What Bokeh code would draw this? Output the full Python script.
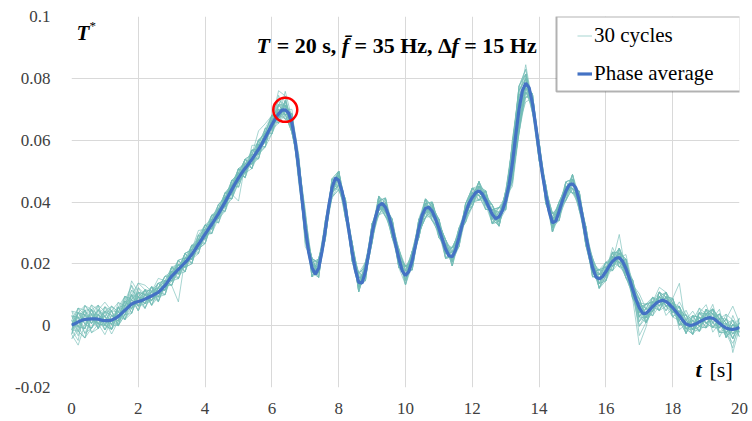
from bokeh.plotting import figure
from bokeh.models import Range1d, FixedTicker, Label, Legend, LegendItem, BoxAnnotation
from bokeh.embed import file_html
from bokeh.resources import INLINE

# ---------------------------------------------------------------- data
# Phase-averaged normalised response T* (x 1e-3), sampled every 0.1 s from 0 to 20 s
avg_milli = [
    0.2, 0.6, 1.2, 1.7, 2.0, 2.1, 2.2, 2.2, 2.1, 1.8,          # 0 s
    1.6, 1.6, 1.8, 2.3, 3.0, 4.0, 5.0, 6.0, 7.0, 7.5,          # 1 s
    7.8, 8.1, 8.6, 9.1, 9.6, 10.2, 10.8, 11.8, 13.0, 14.5,     # 2 s
    16.0, 17.1, 18.2, 19.3, 20.4, 21.6, 23.0, 24.6, 26.3, 27.9,  # 3 s
    29.6, 31.2, 32.8, 34.5, 36.2, 38.1, 40.0, 42.0, 44.0, 46.0,  # 4 s
    47.8, 49.4, 50.9, 52.3, 53.8, 55.4, 57.0, 58.8, 60.8, 62.9,  # 5 s
    65.0, 66.9, 68.5, 69.7, 69.8, 68.8, 65.5, 59.5, 51.0, 41.0,  # 6 s
    31.5, 23.8, 18.8, 16.6, 18.6, 24.0, 31.0, 38.5, 44.5, 47.8,  # 7 s
    47.0, 43.5, 38.0, 31.0, 24.0, 18.0, 14.0, 13.8, 17.5, 23.5,  # 8 s
    30.0, 35.0, 38.8, 39.6, 38.3, 35.5, 31.5, 26.5, 21.8, 17.8,  # 9 s
    16.2, 17.5, 21.0, 26.0, 31.5, 35.8, 38.0, 38.3, 37.0, 34.5,  # 10 s
    31.5, 28.0, 24.8, 22.6, 22.3, 24.5, 28.5, 32.8, 36.5, 39.5,  # 11 s
    41.5, 43.0, 43.6, 42.6, 40.6, 38.2, 36.0, 34.6, 35.2, 37.2,  # 12 s
    40.5, 45.5, 52.5, 61.5, 70.0, 76.0, 78.4, 77.0, 72.0, 64.5,  # 13 s
    56.5, 49.0, 42.5, 37.0, 33.3, 33.8, 37.0, 40.5, 43.5, 45.5,  # 14 s
    45.9, 44.5, 40.5, 35.0, 29.0, 23.5, 18.8, 15.8, 15.1, 15.9,  # 15 s
    17.5, 19.3, 20.8, 21.8, 22.0, 20.8, 18.5, 15.3, 11.8, 8.5,   # 16 s
    5.8, 4.0, 4.0, 5.0, 6.2, 7.2, 7.9, 8.2, 7.8, 6.9,            # 17 s
    5.8, 4.5, 3.2, 1.7, 0.5, 0.1, 0.2, 0.6, 1.2, 1.8,            # 18 s
    2.3, 2.6, 2.4, 1.7, 0.8, -0.1, -0.8, -1.1, -1.2, -1.0,       # 19 s
    -0.6,                                                        # 20 s
]
t_avg = [i / 10 for i in range(len(avg_milli))]

# Individual cycles: deviation from the phase average, in steps of DEV_STEP, every 0.2 s
DEV_STEP = 0.0015
cycle_dev = [
    [1, -2, -4, 0, 2, 1, -1, 2, 3, 1, 4, 2, -1, 0, 1, -2, 0, 2, 1, -1, 0, 1, -1, 2, 1, -2, 0, 1, 2, -1, 0, 3, -2, 1, -3, -1, 2, 1, -2, 0, 2, -1, 1, 2, -2, 0, 1, -1, -2, 1,
     2, 0, -2, 1, 2, -1, 0, 2, 1, -1, -2, 1, 2, 0, -1, 2, 3, -4, -1, 2, 1, -2, 0, 2, 1, -1, -2, 1, 2, 0, -1, 2, 1, -2, 0, -3, 1, 2, -1, 1, 2, -1, 3, 0, -2, 1, 2, -3, 1, 0, 1],
    [-2, -5, -1, 2, 1, 3, 0, -2, 2, 4, 1, -1, 2, -2, 0, 1, -1, 0, 2, 1, -1, 0, 2, 1, -1, 1, 2, -1, 0, 1, 2, -1, 1, -2, 2, 3, -1, 0, 1, -2, -1, 2, 0, -2, 1, 2, -1, 1, 0, -2,
     1, -2, 0, 1, -1, 2, 1, -1, -2, 1, 0, 2, -1, -2, 1, 0, 4, 5, 2, -1, -2, 0, 1, -1, 2, 1, 0, -2, -1, 2, 1, -1, 0, 3, 1, -2, 2, 0, 1, -3, 0, 2, -2, 1, 3, -1, 0, 2, -2, 1, -1],
    [3, 1, -3, -2, 0, 2, 3, 1, 0, 5, 2, 0, 1, 3, 1, -2, -7, 1, 0, 2, 1, -1, 0, 2, -1, -5, 1, 0, -1, 2, -1, 2, 1, -2, 0, -3, 1, 2, -1, 1, 1, -2, 2, 1, -1, 0, 2, -2, 1, 0,
     -2, 1, 1, -1, 2, 0, -1, 1, 2, -2, 1, -1, 0, 2, -2, 1, -3, -5, -2, 1, 2, 1, -2, 0, 1, -1, 2, 1, 0, -2, 0, 3, -1, 1, -2, 0, -1, 1, 3, 2, -1, 1, 0, -2, 2, 3, -1, 1, -2, 0, 2],
    [-1, 2, 3, 1, -2, 0, -3, -1, 1, 2, 4, 3, 1, -1, -2, 0, 1, -1, -2, 0, 2, -1, 1, 0, 2, 1, -2, 3, 1, 0, 1, 5, 3, -2, 1, 4, -2, -1, 2, 1, 0, 1, -2, -1, 2, 1, 0, -1, 2, 1,
     -1, 2, 1, -2, 0, 1, 2, -1, 0, 2, 2, 0, 1, -1, 2, -2, 5, 3, 0, -1, -1, 2, -1, 1, 0, 2, -1, 0, 2, 1, 2, 0, 5, -1, -2, -8, -3, 1, 0, 2, 1, -2, 1, 2, -1, 0, 2, 1, -1, -3, 0],
    [2, -1, -4, -2, 1, 0, 2, 3, 1, -1, 1, 2, -1, 1, 2, 1, -2, 0, 1, -1, -2, 0, 1, -1, 0, 2, 1, -2, -1, 1, 2, -2, 0, 3, -1, -2, 1, -1, 0, 2, -2, 1, 2, 0, -1, -2, 1, 2, -1, 1,
     0, -1, 2, 2, 1, -1, -2, 0, 1, 0, -1, 2, 1, -2, 0, 1, -2, 2, 4, 0, 1, -1, 2, 1, -2, 0, 1, 2, -1, -1, -2, 1, -1, 0, 2, 1, -2, -1, 1, 0, 2, 7, -1, 0, 1, -2, -1, 2, 0, 1, -1],
    [0, 3, 1, -1, 2, 4, 2, -2, -1, 3, 1, -1, 0, 2, 1, -1, 0, 2, 1, 3, 1, 2, -1, 0, 1, -1, 2, 1, 4, 3, 2, -1, 4, 1, -2, -1, 0, 2, 1, -1, 1, 0, -1, 2, 1, -2, -1, 0, 2, 1,
     2, 1, -1, -2, 1, 2, 0, -1, 1, -1, 0, -2, 2, 1, -1, -1, 0, -5, -3, 2, 0, 1, -2, -1, 1, -2, 0, -1, 1, 2, 1, -2, 2, 1, -1, -2, 1, 0, -2, 1, -1, 0, 2, -1, 3, 1, -2, 0, 1, -2, 1],
    [-3, -2, 2, 0, -1, 1, -2, 1, 2, -1, 3, 1, -2, 0, -1, 2, 1, 0, -1, 1, -1, 1, 2, 1, -2, 0, -1, 2, 0, -2, -2, 1, -1, 2, 3, 1, -1, -2, 1, 0, 2, -1, 1, -2, 0, 1, 2, 1, -2, -1,
     1, 2, -2, 0, -1, 1, 2, 1, -1, 2, 2, 1, 0, -1, -2, 1, 3, 2, -2, 0, -2, -1, 1, 2, 0, -1, 1, -2, 0, 1, 0, 1, -1, -2, 1, 2, -1, 2, 0, -1, 1, -3, 0, 2, 1, -1, -2, 1, 3, -5, 0],
    [1, 0, 2, -3, -1, 3, 1, 0, -1, 1, 2, -1, 1, 1, 0, -2, 2, 1, -1, 0, 0, -2, 1, 2, 1, 1, 0, -1, 2, 1, -1, 0, 2, -1, 1, -4, 2, 1, -1, 2, -1, -2, 1, 1, 2, -1, -1, 2, 1, 0,
     -1, 0, 1, 2, -2, 0, 1, -2, 0, 1, 1, -1, -2, 1, 2, 0, -4, 1, -1, -2, 2, 0, -1, 1, 2, 1, -2, 0, -1, 2, -1, 2, 0, 1, -2, -1, 2, 1, -1, 2, 0, 1, -2, 2, -1, 0, 3, -1, 2, 5, 1],
    [-2, 2, 0, 1, 3, -1, -2, 2, 0, 2, -1, 0, 2, -1, 1, 2, -1, -2, 1, 1, 2, 1, -2, -1, 0, -1, 1, 2, -1, 0, 1, 2, -1, 0, 2, 2, -2, 1, 0, -1, 0, 2, -1, -1, 1, 2, 0, -2, -1, 1,
     -2, -1, 1, 1, 2, -1, -1, 2, 1, 0, -1, 0, 1, 2, -1, -2, 5, 4, 1, 1, 0, -2, 2, -1, 1, 0, 2, -1, -2, 0, 2, -1, 1, 2, 0, -3, 0, -1, 2, 1, -2, 2, 1, -1, 0, 2, -3, 0, -1, 2, -2],
    [1, -3, 1, 3, 0, -2, 1, -1, 3, 0, 0, 2, 0, -2, 1, 1, -1, 1, 0, -2, 1, 0, -1, 1, 2, -2, 0, -1, 1, 2, 0, -1, 2, 1, -2, 3, 1, 0, -2, 1, 1, 1, 0, -1, -2, 1, 1, -1, 2, -1,
     2, -2, -1, 0, 1, 2, -1, 0, -2, 1, -2, 1, -1, 0, 2, 1, -5, -5, 0, 2, 1, 2, 0, -2, -1, 1, 0, 2, 1, -2, -1, 0, 2, -1, 1, -6, -2, 1, 1, -1, 1, -1, 0, 1, -2, 1, 2, -2, 0, -1, 1],
    [0, 1, -2, 2, -2, 1, 3, 0, -2, 1, 2, 1, -1, 0, 2, 0, -2, 1, 2, 0, -1, 1, 0, -2, 1, 2, -1, 0, -2, 1, 2, 3, 1, -1, -1, -2, 2, -1, 1, 0, -2, 0, 2, 1, -1, -1, 2, 1, 0, -2,
     0, 1, 2, -1, -2, 0, 2, 1, -1, 1, 2, -1, -2, 1, 1, -1, 2, 5, 2, -1, -1, 1, 2, 0, -2, -1, 1, -1, 2, 1, 0, -2, -1, 2, 1, 2, -2, 0, -1, 1, 2, 0, -1, -2, 1, -1, 0, 2, 1, 0, -1],
    [-1, -4, 3, 1, 0, 2, -1, 2, -2, -1, 1, -2, 1, 2, -1, 0, 2, -1, 0, 1, 2, -1, 1, 0, -1, 1, 2, -2, 0, -1, -2, 0, -1, 2, 2, 1, -1, 2, -1, -2, 2, 1, -2, 0, 1, -1, -2, 0, 1, 2,
     1, -1, 0, 2, 1, -2, 1, -1, 2, 0, 0, 2, 1, -2, -1, 2, -2, -3, -4, 1, -1, 0, -1, 2, 1, -2, -1, 1, 0, -1, 1, 2, -2, 0, -1, 1, 1, -2, 2, 0, -1, 3, 2, 0, -2, -1, 1, -1, 2, 1, 0],
    [2, 1, 0, -2, 1, -1, 2, -2, 1, 4, -1, 1, 2, 0, -1, 1, 0, 2, -2, 1, 0, 2, -2, 1, 0, 2, -1, 0, 1, -2, 1, -2, 2, 0, 1, -3, 0, 1, 2, -1, -1, 0, 1, -2, 2, 0, -1, 1, -1, 2,
     2, 0, -1, -1, 0, 1, 2, -2, 1, -1, 1, -2, 0, 1, 2, 0, 3, 5, 3, -2, 2, 1, -1, 1, 0, 2, -2, -1, 1, 0, -2, 1, 0, -1, 2, -1, 1, 2, -1, 0, 0, -2, 1, 3, 0, 2, -1, -2, 1, 2, 0],
    [-1, 0, 3, 2, -1, -3, 0, 1, -1, 2, 0, 2, -2, 1, 1, -1, 1, 0, 2, -1, -2, 0, 1, -1, 2, 0, 1, -1, -2, 0, 0, 4, -1, -2, 1, 2, -1, -2, 0, 1, 1, -1, 0, 2, -1, 2, 0, -1, -2, 0,
     -1, 2, 1, 0, -2, -1, 0, 1, 2, -1, -2, 0, 2, -1, 0, -1, -3, -2, 0, 1, 0, -1, 1, -2, 1, 0, 2, 1, -2, 1, 2, 0, 1, -2, -1, -4, 0, 1, 2, -1, -2, 1, 0, -1, 2, 0, 2, 1, -1, -4, 2],
    [3, 2, -1, 0, 2, 1, -2, 0, 2, -2, 1, 0, 1, -1, 0, 2, -1, 1, -1, 0, 1, -1, 2, 1, -2, -1, 0, 1, 2, -1, -1, 1, 0, -1, 3, -1, 1, 0, -2, 2, 2, 0, -2, 1, 0, -2, 1, 2, 0, -1,
     1, -2, 0, 2, 1, 1, -2, 0, -1, 2, 1, 1, -1, 0, -2, 2, 4, 3, -1, 0, -2, 0, 2, 1, -1, 2, 0, -2, -1, -1, 0, -1, 2, 1, -1, 1, -2, -1, 1, 2, 1, -1, -2, 2, 1, -1, 0, 3, -2, 0, -1],
    [-2, 3, 2, -1, 1, 0, -1, 3, 0, 1, -2, 1, 0, 2, -1, 1, 2, -1, 1, 0, 0, 1, -1, -2, 1, 0, 2, -1, 1, 2, 2, -1, 1, 1, -2, 0, 2, -1, 1, -2, -2, 1, 1, -1, 0, 2, -1, 0, 2, -1,
     0, -1, 2, 1, -1, 0, -2, 2, 0, 1, -1, -2, 1, 2, 0, -1, -4, -4, -2, 2, 1, -1, 0, 2, -2, -1, 1, 0, 2, -2, 1, 0, -2, 2, 0, -2, 1, 0, -2, 1, 0, 2, 1, -1, -2, 2, 1, 0, -1, 1, 0],
    [1, -1, -2, 2, 3, -1, 1, -1, 2, -1, 3, 0, -1, 1, 2, -1, 0, 1, -1, 2, -1, 2, 0, 1, -1, 1, -2, 2, 0, -1, 1, 0, -2, 2, -1, 2, -2, 0, 1, 0, 0, -2, 2, 0, 1, -1, 2, -1, 0, 1,
     -1, 1, -1, -2, 2, 1, 0, -1, 1, -2, 2, 0, -1, 1, 1, -2, 2, 4, 1, -1, -1, 2, 1, -1, 0, -2, 1, 2, 0, 1, -1, 2, 1, 0, -1, 2, -1, 1, 0, -2, 2, -2, 0, 1, -1, -2, 2, 1, 0, -1, 1],
    [0, 2, 1, -3, -2, 2, 2, -2, 1, 3, 1, -1, 2, 0, -2, 1, 1, -2, 0, 1, 1, 0, -1, 2, 0, -1, 1, 0, -2, 1, -2, 2, 3, -1, 0, -2, 1, 2, -1, -1, 1, -1, -1, 2, 1, 0, -2, 1, -1, 0,
     2, 0, 1, -2, 0, 2, 1, -2, -1, 0, -1, 1, 2, -1, -2, 1, -2, -4, 1, 0, 2, -2, 0, 1, 2, -1, -1, 0, 1, -1, -2, -1, 1, -1, 2, 0, 2, -1, 1, 0, -1, 1, -1, 0, 2, 1, -2, 1, 2, -1, 0],
    [-3, -1, 1, 2, 0, 1, -1, 2, -1, -2, 2, 1, 0, -1, 1, -2, 0, 2, 1, -1, -1, 1, 1, -1, 2, 1, -1, 0, 1, -2, 1, 2, -1, 2, -2, 1, 0, -1, 2, 0, -1, 2, 0, 1, -1, -2, 1, 2, -2, 1,
     0, 1, -2, 1, 2, -1, 1, -1, 0, 2, 2, -1, 0, -2, 1, 1, 4, 2, -2, 1, -1, 1, 2, -1, -1, 1, -2, 1, 0, 2, 0, 2, -2, 1, 1, -1, 0, -2, 1, -1, 1, 0, 2, -2, 1, 0, -1, -1, 3, 2, -2],
    [2, -2, -4, 1, -1, 2, 1, -1, 3, 1, -1, 2, 1, -2, 0, 1, -1, 1, -2, 2, 2, -1, 0, 1, -2, -1, 2, 1, -1, 1, 0, -1, 1, -2, 1, 3, 1, -2, 0, 2, 2, 1, -1, 0, -2, 1, 1, -1, 1, -2,
     -2, 0, 2, -1, 1, -2, 0, 2, 1, -1, 0, 2, -2, 1, -1, 0, -3, -5, -1, 1, 1, 0, -1, -2, 2, 1, -1, 2, -1, 0, 2, -1, 0, -2, -1, 1, 2, 1, -2, 1, -1, 2, 0, 1, -1, -2, 0, 2, 1, -2, 1],
    [-1, 1, 2, -1, 1, -2, 0, 2, -2, 0, 1, -1, -1, 1, 2, 0, 1, -1, 2, -1, 0, -2, 1, 2, 0, 2, -1, -2, 1, 0, 1, 0, -2, 1, -1, -1, 2, 1, -2, 1, 0, 1, 2, -1, 2, -1, 0, -2, 0, 2,
     1, -1, 0, 1, -1, 2, -2, 1, 1, -2, -2, 1, 1, 0, 2, -1, 2, 4, 2, -1, 0, 2, -2, 1, -1, 0, 1, -1, -2, 1, -1, 1, 2, -2, 0, -2, -1, 2, 0, 1, 2, -1, -2, 1, 0, 1, 1, -2, -1, 2, -1],
    [2, 0, -2, 3, 2, 0, -2, -1, 2, -1, 0, -2, 1, 1, -1, 2, -2, 0, 1, 1, -2, 1, 2, -1, 1, -1, 0, 2, -1, -2, 2, -1, 0, -1, 2, -2, -1, 0, 1, -1, -1, 2, -1, 1, 0, -2, 2, -1, 1, 0,
     2, -2, 1, -1, 2, 0, -1, 1, -2, 1, 1, -1, 0, 2, -1, 2, -4, -4, 0, -2, -2, 1, 1, -1, 2, -2, 2, -1, 1, 0, 2, -2, 1, 2, -2, 1, 0, -1, 2, -1, 0, -2, 1, -1, 2, -1, 0, 1, -2, 1, 0],
    [-2, 2, 1, 0, -2, 2, 1, -1, -1, 2, 1, 0, -1, 2, 1, -1, -2, 1, -1, 0, 1, 2, 0, -1, -2, 2, 1, 0, 2, 1, -1, -2, 2, 0, -1, 1, -2, 2, -1, 1, 2, -1, 1, -2, 1, 0, -1, 2, -1, -1,
     0, 2, -1, -2, -1, 1, 2, -1, 2, 0, -1, 2, 0, -1, 1, -2, 3, 5, 3, 0, 1, -1, -2, 2, 0, 1, -1, -2, 1, -1, 1, -1, -1, 1, 2, -2, -2, 0, 1, 2, -2, 1, 2, -1, -1, 2, 1, -1, 0, -2, 2],
    [0, -1, 2, 2, -1, -1, -2, 1, 3, -2, 2, 1, -2, -1, 1, 0, 2, -2, 1, 2, -1, -1, 1, 2, -1, 1, -2, 0, -1, 1, 2, 1, -1, -2, 2, 1, 1, -1, 0, -2, -2, 0, 2, 1, -2, 1, 1, 0, -1, 2,
     1, 1, -2, 0, 2, -1, -1, 2, -1, 1, 2, -2, 1, 2, -2, 1, -4, -3, 2, 1, -2, 2, -1, 0, 1, -2, 2, 1, -1, 2, 0, 2, -2, -1, 1, 3, 1, -2, -1, 0, 1, -1, -1, 2, 1, -2, 2, 0, -1, 1, -1],
    [1, 3, -1, -2, 2, -2, 1, -1, 0, 1, -2, 2, 1, 0, -2, 1, -1, 2, -1, -1, 2, 0, -1, 1, 1, -2, 1, -1, 2, 0, -1, 2, 1, 1, -1, 2, -1, 1, -1, 2, 1, -2, -1, 2, 2, -1, 1, -1, 2, -1,
     -1, 2, 0, -1, 1, -1, 2, 0, -2, -1, 0, -1, 2, -2, 0, 2, 2, 3, -2, -1, 2, -1, 1, -1, -2, 1, 0, -1, 2, -2, -2, 1, -1, 0, 1, -1, 2, 1, -2, 1, 0, 1, -2, 2, -1, 0, -1, 2, 1, -2, 1],
    [-2, 0, 0, 1, -2, 3, 2, 1, -2, 2, -1, 1, 2, -2, 1, -1, 1, -1, 2, -2, 0, 1, -2, 0, 2, -1, -1, 1, -2, 2, -2, -1, 2, -1, 1, -1, 2, -2, 1, 0, 2, 1, -2, -1, -1, 2, -1, 1, 0, -2,
     2, -1, 1, 2, -2, -1, 1, -2, 2, 1, -2, 2, -1, 1, 2, -2, -2, -4, -1, 2, -1, 1, 2, -2, 1, -1, -1, 2, -2, 1, 1, -2, 2, 1, -1, -4, -1, 0, 1, -2, 2, 0, -1, -2, 2, 1, -2, -1, 2, 0, 0],
    [3, -1, -2, 1, 1, -1, -2, 2, 1, -1, 2, -2, 0, 1, -2, 2, 0, -1, -2, 1, -1, 2, 1, -2, -1, 0, 2, -2, 1, -1, 1, -2, -1, 2, -2, -1, 1, -1, 2, 1, -1, 2, 1, -2, 1, -1, 2, 0, -2, 1,
     -2, 1, -2, 1, 0, 2, -1, 1, -1, 2, 1, 0, 1, -2, -1, 1, 4, 4, 1, -2, 2, -1, -1, 1, -2, 2, -1, 0, 1, -1, -1, 0, -1, 2, -2, 1, 1, -1, 2, -1, -1, 2, -1, 0, 1, -2, 1, 1, -2, 3, -1],
    [-1, 2, -1, -2, 0, 1, 2, -2, -1, 1, -1, -1, 1, 2, -1, -1, 2, 1, -1, -2, 1, -2, 0, 1, 2, -1, -1, 2, 0, 1, -1, 1, -2, -1, 2, 2, -1, -1, -2, 1, 1, -1, 1, 1, -1, -2, 1, -2, 1, -1,
     1, 2, -1, -2, 2, 1, -2, 0, 1, -2, -1, 1, -2, 1, -2, 0, -2, -2, -3, 1, 1, -2, 2, -1, 0, 1, -1, 2, -1, 2, 2, 1, -1, -2, 2, -1, -2, 1, -1, 2, -2, -1, 2, 1, -2, 1, 2, -2, -1, 1, 2],
    [2, 1, -3, 0, -1, -1, 3, 1, -2, -2, 1, 2, -2, 1, 1, -2, 1, -2, 2, 0, -2, 1, 1, -2, 1, 2, -2, 1, -1, -2, 2, -1, 1, 2, -1, -2, 2, 1, 1, -1, -1, 2, -2, 1, -1, 2, -2, 1, 1, 2,
     -1, -1, 2, -1, 2, -2, 1, -1, -1, -1, 2, -1, 2, 0, 1, -1, 3, 2, -3, 2, -1, 2, -2, 2, 1, -1, 2, -2, 1, -2, -1, -1, 1, 2, -1, 2, -1, -1, 2, 1, 1, 2, -1, -1, 2, -1, -2, 1, -1, 1, -2],
    [-1, -2, 1, -1, 3, 2, -1, -2, 1, 2, -2, 1, -1, 0, -1, 2, -1, 2, -2, 1, 2, -2, -1, 1, -2, 1, 2, -2, 2, 1, -2, 2, -1, -2, 1, -1, -2, 2, -1, -1, 2, -2, 2, -1, 1, 1, -2, -1, 2, -2,
     2, -2, 1, 2, -1, -2, 1, 2, -1, 1, -1, -2, 2, -1, -1, 2, -3, -4, 2, -1, 2, -2, 1, 2, -1, 2, 1, -2, -1, 2, -2, 1, 2, -1, 1, 0, 2, 2, -2, -1, 2, -2, 1, -2, -1, 2, -1, -1, 2, -1, 1],
]
t_cycle = [i / 5 for i in range(101)]

x_ticks = [0, 2, 4, 6, 8, 10, 12, 14, 16, 18, 20]
y_ticks = [-0.02, 0, 0.02, 0.04, 0.06, 0.08, 0.1]
y_tick_labels = ["-0.02", "0", "0.02", "0.04", "0.06", "0.08", "0.1"]

NB = "\u00a0"
title_parts = [("T", "bold italic"), (NB + "=" + NB + "20 s," + NB, "bold"), ("f\u0304", "bold italic"),
               (NB + "=" + NB + "35 Hz," + NB + "\u0394", "bold"), ("f", "bold italic"),
               (NB + "=" + NB + "15 Hz", "bold")]
title_px = [256, 270.7, 341.3, 348.6, 451, 458.3]

CYCLE_COLOR = "#72bcb6"
AVG_COLOR = "#4472c4"
SERIF = "Liberation Serif"

# ---------------------------------------------------------------- figure
p = figure(width=752, height=421, output_backend="svg", toolbar_location=None,
           x_range=Range1d(0, 20), y_range=Range1d(-0.02, 0.1),
           min_border_left=71, min_border_right=13, min_border_top=16, min_border_bottom=34)
p.outline_line_color = None
p.background_fill_color = "white"
p.border_fill_color = "white"

p.xaxis.ticker = FixedTicker(ticks=x_ticks)
p.yaxis.ticker = FixedTicker(ticks=y_ticks)
p.yaxis.major_label_overrides = dict(zip(y_ticks, y_tick_labels))
for ax in (p.xaxis, p.yaxis):
    ax.axis_line_color = None
    ax.major_tick_line_color = None
    ax.minor_tick_line_color = None
    ax.major_label_text_font = SERIF
    ax.major_label_text_font_size = "17px"
    ax.major_label_text_color = "#404040"
p.xaxis.major_label_standoff = 9
p.yaxis.major_label_standoff = 15
p.xgrid.grid_line_color = "#d9d9d9"
p.ygrid.grid_line_color = "#d9d9d9"


# pixel position on the canvas -> data coordinates (for text placement)
def cx(px):
    return (px - 71) / 33.4


def cy(py):
    return (325.2 - py) / 3091.7


# individual cycles
cycle_renderers = []
for dev in cycle_dev:
    n = min(len(dev), len(t_cycle))
    ys = [avg_milli[2 * i] / 1000 + dev[i] * DEV_STEP for i in range(n)]
    r = p.line(t_cycle[:n], ys, line_color=CYCLE_COLOR, line_alpha=0.7, line_width=0.9)
    cycle_renderers.append(r)

# phase average
avg_y = [v / 1000 for v in avg_milli]
avg_r = p.line(t_avg, avg_y, line_color=AVG_COLOR, line_width=3.2)

# marker on the first maximum of the phase average (before 7 s)
first = [i for i, t in enumerate(t_avg) if t < 7]
i_pk = max(first, key=lambda i: avg_y[i])
p.scatter([t_avg[i_pk]], [avg_y[i_pk]], marker="circle", size=24,
          fill_color=None, line_color="#ff0000", line_width=2.5)

# legend frame and legend
p.add_layout(BoxAnnotation(left=cx(556), right=cx(740), bottom=cy(91), top=cy(16),
                           fill_color="white", fill_alpha=1.0,
                           line_color="black", line_width=2))
legend = Legend(items=[LegendItem(label="30 cycles", renderers=[cycle_renderers[0]]),
                       LegendItem(label="Phase average", renderers=[avg_r])],
                location=(506, 301), padding=9, spacing=13, margin=0,
                glyph_width=15, glyph_height=21, label_height=21, label_standoff=2,
                label_text_font=SERIF, label_text_font_size="21px", label_text_color="black",
                border_line_color=None, background_fill_alpha=0)
p.add_layout(legend)

# annotation text
for (txt, style), px in zip(title_parts, title_px):
    p.add_layout(Label(x=cx(px), y=cy(45.5), text=txt, text_font=SERIF, text_font_size="22px",
                       text_font_style=style, text_color="black", text_baseline="alphabetic"))

p.add_layout(Label(x=cx(76), y=cy(33), text="T", text_font=SERIF, text_font_size="21px",
                   text_font_style="bold italic", text_color="black", text_baseline="alphabetic"))
p.add_layout(Label(x=cx(89), y=cy(25), text="*", text_font=SERIF, text_font_size="13px",
                   text_color="black", text_baseline="alphabetic"))
p.add_layout(Label(x=cx(695), y=cy(369), text="t", text_font=SERIF, text_font_size="22px",
                   text_font_style="bold italic", text_color="black", text_baseline="alphabetic"))
p.add_layout(Label(x=cx(709), y=cy(369), text="[s]", text_font=SERIF, text_font_size="22px",
                   text_color="black", text_baseline="alphabetic"))

open("out.html", "w").write(file_html(p, INLINE))
